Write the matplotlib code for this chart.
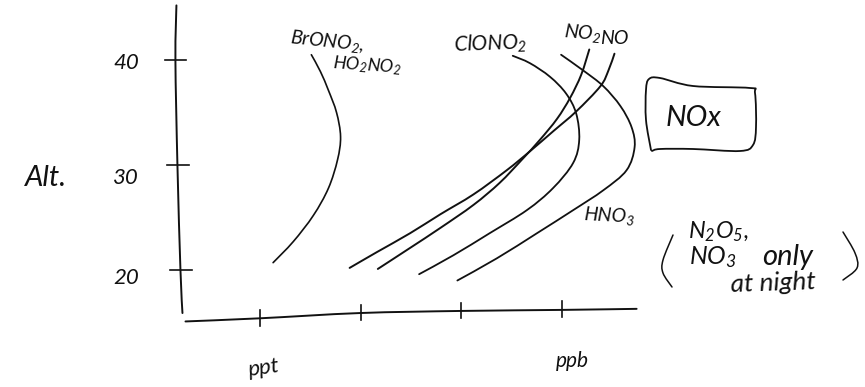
import numpy as np
import matplotlib
matplotlib.use('Agg')
import matplotlib.pyplot as plt
from matplotlib.path import Path
from matplotlib.patches import PathPatch
from matplotlib.transforms import Affine2D

plt.rcParams['font.family'] = ['Lato', 'DejaVu Sans']
plt.rcParams['font.style'] = 'italic'
plt.rcParams['mathtext.default'] = 'regular'

INK = '#111111'

# x is decades above 1 ppt (ppb = 3), y is altitude in km
brono2_x = [0.13, 0.33, 0.53, 0.68, 0.77, 0.80, 0.76, 0.68, 0.60, 0.51]
brono2_alt = [20.7, 22.7, 25.2, 27.8, 30.5, 32.7, 35.0, 37.1, 38.9, 40.5]

no_x = [0.89, 1.16, 1.49, 1.79, 2.12, 2.45, 2.68, 2.91, 3.14, 3.38, 3.46, 3.52]
no_alt = [20.2, 21.7, 23.5, 25.3, 27.2, 29.5, 31.3, 33.2, 35.1, 37.5, 39.0, 40.6]

no2_x = [1.17, 1.49, 1.79, 2.12, 2.38, 2.60, 2.78, 2.95, 3.08, 3.19, 3.27]
no2_alt = [20.1, 22.1, 24.0, 26.2, 28.3, 30.5, 32.4, 34.4, 36.4, 38.6, 41.0]

clono2_x = [1.58, 1.92, 2.28, 2.65, 2.91, 3.11, 3.17, 3.14, 3.04, 2.88, 2.68, 2.51]
clono2_alt = [19.6, 21.4, 23.5, 25.7, 27.8, 30.2, 32.4, 34.9, 36.8, 38.4, 39.7, 40.4]

hno3_x = [1.96, 2.35, 2.75, 3.11, 3.41, 3.64, 3.72, 3.69, 3.58, 3.41, 3.21, 2.99]
hno3_alt = [19.0, 21.1, 23.5, 25.7, 27.6, 29.5, 31.7, 33.6, 35.6, 37.5, 39.0, 40.5]

alt_ticks = [20, 30, 40]
alt_labels = ['20', '30', '40']
alt_axis_x = [-0.79, -0.82, -0.84]
alt_label_y = [19.2, 28.8, 39.7]

decade_ticks = [0, 1, 2, 3]
decade_base = [15.4, 15.9, 16.1, 16.2]


def bezier_path(xs, ys):
    # smooth pen stroke through the read points (catmull-rom to bezier)
    pts = np.column_stack([xs, ys])
    verts = [pts[0]]
    codes = [Path.MOVETO]
    for i in range(len(pts) - 1):
        p0 = pts[max(i - 1, 0)]
        p1 = pts[i]
        p2 = pts[i + 1]
        p3 = pts[min(i + 2, len(pts) - 1)]
        verts += [p1 + (p2 - p0) / 6, p2 - (p3 - p1) / 6, p2]
        codes += [Path.CURVE4] * 3
    return Path(verts, codes)


def stroke(ax, xs, ys, lw=1.3, transform=None):
    patch = PathPatch(bezier_path(xs, ys), fill=False, edgecolor=INK, lw=lw,
                      capstyle='round', joinstyle='round',
                      transform=transform if transform is not None else ax.transData)
    ax.add_patch(patch)


def main():
    fig = plt.figure(figsize=(8.65, 3.87), dpi=100)
    ax = fig.add_axes([0, 0, 1, 1])
    ax.set_xlim(-2.582, 6.008)
    ax.set_ylim(8.857, 45.714)
    ax.axis('off')

    # pixel positions for the hand written notes
    ink = Affine2D().scale(1 / 865, -1 / 387).translate(0, 1) + ax.transAxes

    #axes lines
    stroke(ax, [-0.83, -0.84, -0.82, -0.79, -0.77], [45.2, 40, 30, 20, 15.9], lw=1.4)
    stroke(ax, [-0.74, 0, 0.99, 1.99, 3, 3.74], [15.1, 15.4, 15.9, 16.1, 16.2, 16.3], lw=1.4)

    #ticks
    for a, x0, lab, ly in zip(alt_ticks, alt_axis_x, alt_labels, alt_label_y):
        ax.plot([x0 - 0.1, x0 + 0.11], [a, a], color=INK, lw=1.2)
        ax.text(-1.33, ly, lab, fontsize=16, ha='center', va='center', color=INK)
    for d, base in zip(decade_ticks, decade_base):
        ax.plot([d, d], [base - 0.7, base + 0.8], color=INK, lw=1.2)

    #curves
    stroke(ax, brono2_x, brono2_alt, lw=1.2)
    stroke(ax, no_x, no_alt, lw=1.4)
    stroke(ax, no2_x, no2_alt, lw=1.4)
    stroke(ax, clono2_x, clono2_alt, lw=1.3)
    stroke(ax, hno3_x, hno3_alt, lw=1.3)

    #labels
    def note(x, y, s, size=13, rot=0, ha='center'):
        ax.text(x, y, s, fontsize=size, rotation=rot, ha=ha, va='center',
                color=INK, transform=ink, rotation_mode='anchor')

    note(46, 178, 'Alt.', 21)
    note(264, 368, 'ppt', 16, 8)
    note(572, 361, 'ppb', 15)
    note(327, 41, 'BrONO$_2$,', 14, -6)
    note(367, 66, 'HO$_2$NO$_2$', 13, -4)
    note(490, 44, 'ClONO$_2$', 15, 2)
    note(583, 33, 'NO$_2$', 14, -5)
    note(614, 38, 'NO', 14)
    note(609, 216, 'HNO$_3$', 14, -3)
    note(694, 118, 'NOx', 21)
    note(718, 232, 'N$_2$O$_5$,', 17)
    note(713, 257, 'NO$_3$', 18)
    note(788, 257, 'only', 21)
    note(773, 283, 'at night', 19, 2)

    #box and brackets
    stroke(ax, [651, 646, 646, 649, 660, 693, 750, 755, 756, 753, 740, 693, 660, 652],
           [150, 120, 90, 79, 78, 86, 88, 93, 127, 145, 151, 149, 149, 151], lw=1.3, transform=ink)
    stroke(ax, [673, 663, 663, 672], [235, 260, 273, 287], lw=1.1, transform=ink)
    stroke(ax, [843, 855, 857, 843], [232, 253, 268, 280], lw=1.1, transform=ink)

    fig.savefig('out.png', dpi=100, facecolor='white')


if __name__ == "__main__":
    main()
